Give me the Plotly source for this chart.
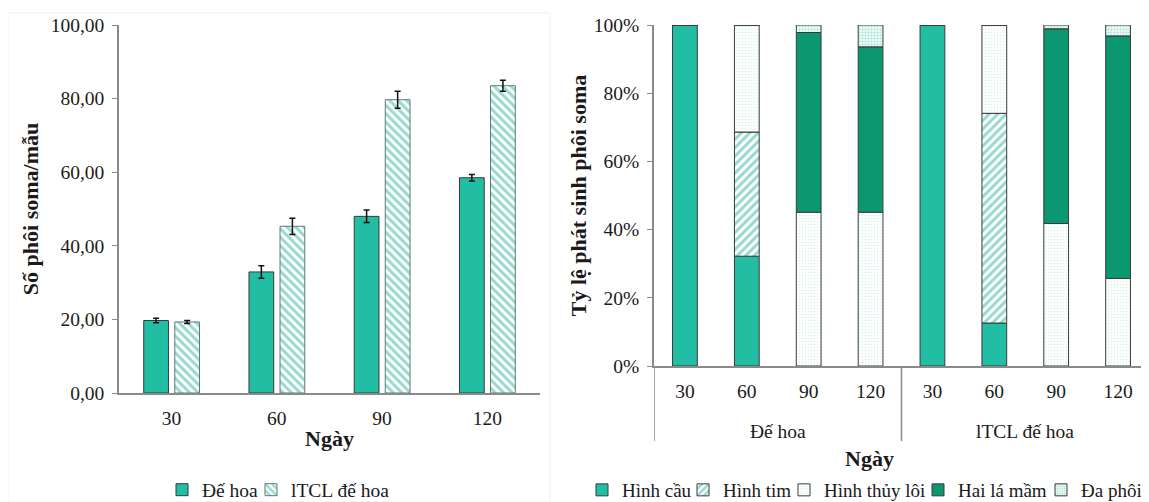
import plotly.graph_objects as go

# ---------- data ----------
days = ["30", "60", "90", "120"]
left_names = ["Đế hoa", "lTCL đế hoa"]
de_hoa = [19.7, 32.9, 48.0, 58.5]
de_hoa_err = [0.6, 1.7, 1.7, 0.9]
ltcl = [19.3, 45.3, 79.7, 83.5]
ltcl_err = [0.4, 2.2, 2.3, 1.5]

group_names = ["Đế hoa", "lTCL đế hoa"]
groups = [group_names[0]] * 4 + [group_names[1]] * 4
group_days = days * 2
stage_names = ["Hình cầu", "Hình tim", "Hình thủy lôi", "Hai lá mầm", "Đa phôi"]
hinh_cau = [100.0, 32.2, 0.0, 0.0, 100.0, 12.6, 0.0, 0.0]
hinh_tim = [0.0, 36.4, 0.0, 0.0, 0.0, 61.5, 0.0, 0.0]
thuy_loi = [0.0, 31.4, 45.1, 45.1, 0.0, 25.9, 41.8, 25.7]
hai_la_mam = [0.0, 0.0, 52.7, 48.5, 0.0, 0.0, 57.1, 71.1]
da_phoi = [0.0, 0.0, 2.2, 6.4, 0.0, 0.0, 1.1, 3.2]

# ---------- styles ----------
TEAL = "#22BEA4"
DARK = "#0B9870"
HATCH = "#2FB49C"
FONT = "Liberation Serif"
TXT = "#1a1a1a"
AX = "#8a8a8a"
OUT = "#3a3a3a"

W, H = 1141, 494          # page adds an 8px body margin
def px_x(sx):             # screen x -> paper x
    return (sx - 8) / W
def px_y(sy):             # screen y -> paper y
    return 1 - (sy - 8) / H

fig = go.Figure()

# ---------- left chart: grouped bars ----------
fig.add_trace(go.Bar(
    x=days, y=de_hoa, name=left_names[0], xaxis="x", yaxis="y",
    offset=-0.265, width=0.235,
    marker=dict(color=TEAL, line=dict(color=OUT, width=1)),
    error_y=dict(type="data", array=de_hoa_err, color="#111111", thickness=1.5, width=3),
    legend="legend",
))
fig.add_trace(go.Bar(
    x=days, y=ltcl, name=left_names[1], xaxis="x", yaxis="y",
    offset=0.03, width=0.235,
    marker=dict(color="white", line=dict(color="#5a7a74", width=1),
                pattern=dict(shape="\\", fgcolor=HATCH, bgcolor="white", size=6, solidity=0.5)),
    error_y=dict(type="data", array=ltcl_err, color="#111111", thickness=1.5, width=3),
    legend="legend2",
))

# ---------- right chart: stacked bars ----------
cat_ids = [g + " " + d for g, d in zip(groups, group_days)]
stacks = [hinh_cau, hinh_tim, thuy_loi, hai_la_mam, da_phoi]
markers = [
    dict(color=TEAL, line=dict(color=OUT, width=1)),
    dict(color="white", line=dict(color=OUT, width=1),
         pattern=dict(shape="/", fgcolor=HATCH, bgcolor="white", size=6, solidity=0.5)),
    dict(color="white", line=dict(color=OUT, width=1),
         pattern=dict(shape=".", fgcolor="#b5e2d6", bgcolor="white", size=3, solidity=0.25)),
    dict(color=DARK, line=dict(color=OUT, width=1)),
    dict(color="white", line=dict(color=OUT, width=1),
         pattern=dict(shape=".", fgcolor="#6ccdb5", bgcolor="white", size=3, solidity=0.5)),
]
base = [0.0] * len(cat_ids)
for i, (name, vals, mk) in enumerate(zip(stage_names, stacks, markers)):
    fig.add_trace(go.Bar(
        x=cat_ids, y=vals, base=list(base), name=name,
        xaxis="x2", yaxis="y2", width=0.4, offset=-0.2, marker=mk,
        legend="legend%d" % (i + 3),
    ))
    base = [b + v for b, v in zip(base, vals)]

tick_font = dict(family=FONT, size=19.5, color=TXT)
title_font = dict(family=FONT, size=22, color=TXT)

L_AX = [px_x(119), px_x(540)]
R_AX = [px_x(654), 1.0]

layout = dict(
    width=W, height=H,
    margin=dict(l=0, r=0, t=0, b=0, autoexpand=False),
    paper_bgcolor="white", plot_bgcolor="white",
    barmode="overlay",
    separators=",.",
    font=dict(family=FONT, size=16, color=TXT),
    showlegend=True,
    xaxis=dict(domain=L_AX, anchor="y", type="category", automargin=False,
               showline=True, linecolor=AX, linewidth=1.5, ticks="",
               tickfont=tick_font, showgrid=False, ticklabelstandoff=7,
               title=dict(text="<b>Ngày</b>", font=title_font, standoff=2)),
    yaxis=dict(domain=[px_y(393), px_y(25)], anchor="x", range=[0, 100], dtick=20,
               automargin=False, tickformat=".2f", showline=True, linecolor=AX,
               linewidth=1.5, ticks="outside", ticklen=5, tickcolor=AX,
               tickfont=tick_font, showgrid=False, zeroline=False,
               ticklabelstandoff=4,
               title=dict(text="<b>Số phôi soma/mẫu</b>", font=title_font, standoff=6)),
    xaxis2=dict(domain=R_AX, anchor="y2", type="category", automargin=False,
                range=[-0.5, len(cat_ids) - 0.5],
                tickvals=cat_ids, ticktext=group_days,
                showline=True, linecolor=AX, linewidth=1.5, ticks="",
                tickfont=tick_font, showgrid=False, ticklabelstandoff=7),
    yaxis2=dict(domain=[px_y(366), px_y(25)], anchor="x2", range=[0, 100], dtick=20,
                automargin=False, ticksuffix="%", showline=True, linecolor=AX,
                linewidth=1.5, ticks="outside", ticklen=5, tickcolor=AX,
                tickfont=tick_font, showgrid=False, zeroline=False,
                ticklabelstandoff=4,
                title=dict(text="<b>Tỷ lệ phát sinh phôi soma</b>", font=title_font, standoff=1)),
)

# one legend box per entry so the entries sit where the reference puts them
legend_sym_x = [176, 265, 596, 697, 798, 932, 1055]
legend_sizes = [19.5, 19.5, 19, 19, 19, 19, 19]
for k, (sx, fs) in enumerate(zip(legend_sym_x, legend_sizes)):
    key = "legend" if k == 0 else "legend%d" % (k + 1)
    layout[key] = dict(orientation="h", x=px_x(sx - 14), xanchor="left",
                       y=px_y(490), yanchor="middle",
                       font=dict(family=FONT, size=fs, color=TXT),
                       itemwidth=30, bgcolor="rgba(0,0,0,0)")
fig.update_layout(**layout)

# group labels and dividers of the right category axis
for g_idx, gname in enumerate(group_names):
    fig.add_annotation(text=gname, xref="x2", yref="paper", x=g_idx * 4 + 1.5, y=px_y(431),
                       showarrow=False, font=tick_font, yanchor="middle")
for xd in [-0.5, 3.5]:
    fig.add_shape(type="line", xref="x2", yref="paper", x0=xd, x1=xd,
                  y0=px_y(366), y1=px_y(441), line=dict(color=AX, width=1.5))
fig.add_annotation(text="<b>Ngày</b>", xref="paper", yref="paper",
                   x=(R_AX[0] + R_AX[1]) / 2 - 0.005, y=px_y(458), showarrow=False,
                   font=title_font, yanchor="middle")

# faint frame around the left chart panel
fig.add_shape(type="rect", xref="paper", yref="paper", x0=0.0, x1=px_x(550), y0=0.0, y1=px_y(13),
              line=dict(color="#f0f0f0", width=1), layer="below")

fig.write_html("out.html")
